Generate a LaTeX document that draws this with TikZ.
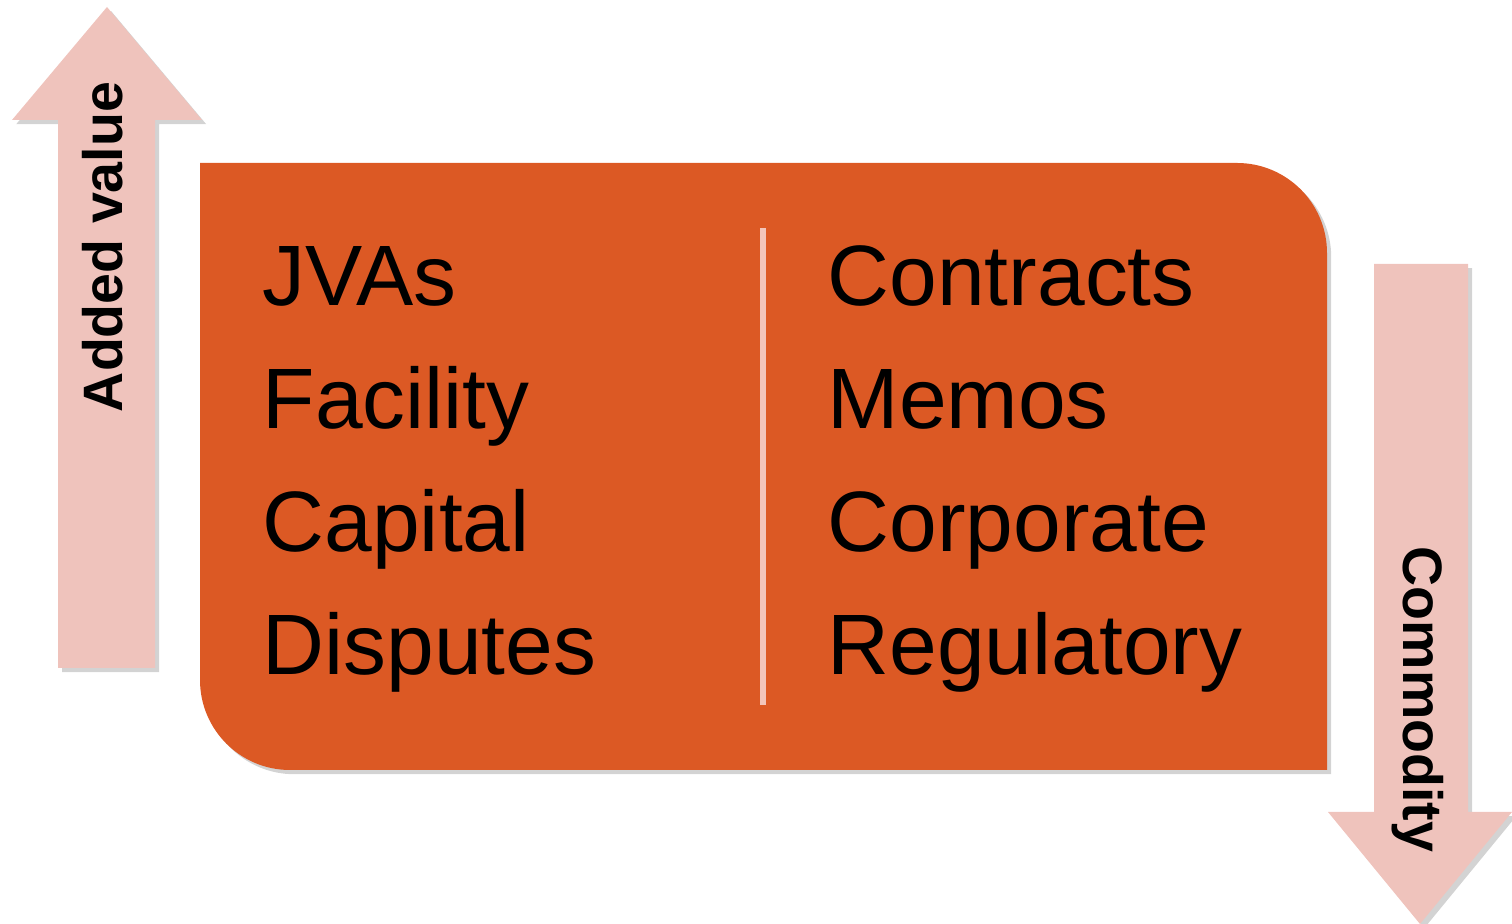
\documentclass[tikz,border=0pt]{standalone}
\usepackage{fontspec}
\setmainfont{Liberation Sans}
\usepackage{tikz}
\usetikzlibrary{positioning,shadows}
\definecolor{boxorange}{RGB}{220,89,36}
\definecolor{arrowpink}{RGB}{239,195,188}
\definecolor{rulepink}{RGB}{243,197,186}

\begin{document}
\begin{tikzpicture}[node distance=1.23cm,
		item/.style={inner sep=0pt, anchor=base west, font=\fontsize{24.4}{29}\selectfont},
		side/.style={inner sep=0pt, anchor=base, font=\fontsize{15.8}{19}\selectfont\bfseries},
		softshadow/.style={drop shadow={shadow xshift=1.2pt, shadow yshift=-1.2pt, opacity=0.35}}]
		\useasboundingbox (0,0) rectangle (15.12,9.24);
		
		% arrows
		\fill[arrowpink, softshadow] (1.07,9.17) -- (2.02,8.04) -- (1.55,8.04) -- (1.55,2.56)
			-- (0.58,2.56) -- (0.58,8.04) -- (0.12,8.04) -- cycle;
		\fill[arrowpink, softshadow] (13.74,6.60) -- (14.68,6.60) -- (14.68,1.12) -- (15.12,1.12)
			-- (14.20,0) -- (13.28,1.12) -- (13.74,1.12) -- cycle;
		
		% box
		\fill[boxorange, softshadow] (2.00,7.61) -- (12.37,7.61) arc[start angle=90, end angle=0, radius=0.9]
			-- (13.27,1.54) -- (2.90,1.54) arc[start angle=270, end angle=180, radius=0.9] -- cycle;
		\draw[rulepink, line width=1.7pt] (7.63,6.96) -- (7.63,2.19);
		
		\node (added) [side, rotate=90]  at (1.22,6.77)  {Added value};
		\node (comm)  [side, rotate=-90] at (14.03,2.245) {Commodity};
		
		\node (jvas)      [item] at (2.62,6.18) {JVAs};
		\node (facility)  [item, below=of jvas.base west, anchor=base west]     {Facility};
		\node (capital)   [item, below=of facility.base west, anchor=base west] {Capital};
		\node (disputes)  [item, below=of capital.base west, anchor=base west]  {Disputes};
		
		\node (contracts) [item, right=5.65cm of jvas.base west, anchor=base west] {Contracts};
		\node (memos)     [item, below=of contracts.base west, anchor=base west]  {Memos};
		\node (corporate) [item, below=of memos.base west, anchor=base west]      {Corporate};
		\node (regul)     [item, below=of corporate.base west, anchor=base west]  {Regulatory};
	\end{tikzpicture}
\end{document}
